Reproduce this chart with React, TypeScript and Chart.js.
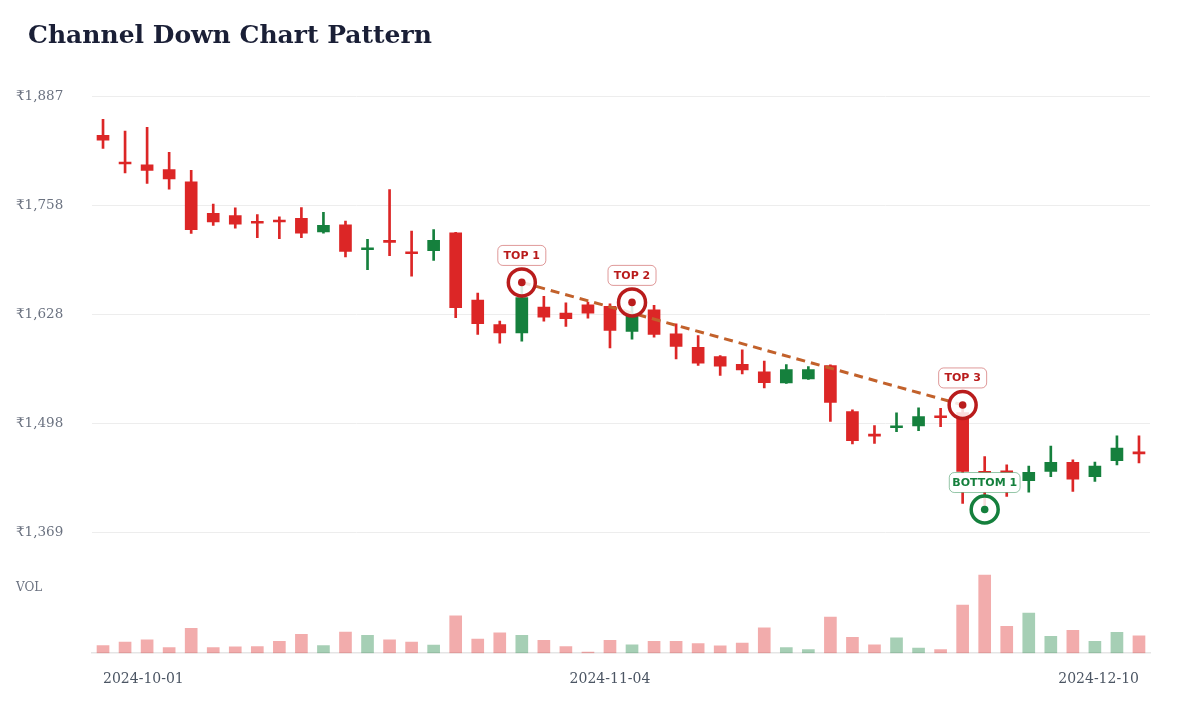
import { useEffect, useRef } from "react";
import { Chart, registerables } from "chart.js";

Chart.register(...registerables);

// trading days shown on the category axis
const dates = [
  "2024-10-01", "2024-10-03", "2024-10-04", "2024-10-07", "2024-10-08", "2024-10-09", "2024-10-10", "2024-10-11",
  "2024-10-14", "2024-10-15", "2024-10-16", "2024-10-17", "2024-10-18", "2024-10-21", "2024-10-22", "2024-10-23",
  "2024-10-24", "2024-10-25", "2024-10-28", "2024-10-29", "2024-10-30", "2024-10-31", "2024-11-01", "2024-11-04",
  "2024-11-05", "2024-11-06", "2024-11-07", "2024-11-08", "2024-11-11", "2024-11-12", "2024-11-13", "2024-11-14",
  "2024-11-18", "2024-11-19", "2024-11-21", "2024-11-22", "2024-11-25", "2024-11-26", "2024-11-27", "2024-11-28",
  "2024-11-29", "2024-12-02", "2024-12-03", "2024-12-04", "2024-12-05", "2024-12-06", "2024-12-09", "2024-12-10",
];

const opens = [
  1840.5, 1807.5, 1805.5, 1800.0, 1785.3, 1748.1, 1745.4, 1737.2, 1738.7, 1742.1, 1725.9, 1734.2,
  1704.8, 1714.5, 1701.0, 1703.7, 1724.7, 1645.0, 1616.1, 1606.2, 1636.7, 1629.5, 1639.5, 1637.5,
  1607.8, 1633.6, 1605.1, 1589.1, 1578.1, 1568.9, 1559.9, 1546.8, 1551.5, 1567.4, 1512.7, 1484.6,
  1493.5, 1495.7, 1506.4, 1511.5, 1441.7, 1442.5, 1430.6, 1441.7, 1452.4, 1435.4, 1454.4, 1463.6,
];
const highs = [
  1859.5, 1845.6, 1850.0, 1820.3, 1798.9, 1758.8, 1754.4, 1746.5, 1743.7, 1754.9, 1749.3, 1738.9,
  1717.2, 1776.3, 1727.0, 1728.7, 1725.5, 1653.3, 1620.0, 1666.0, 1649.4, 1641.9, 1642.6, 1640.7,
  1642.3, 1638.7, 1616.9, 1603.0, 1579.3, 1586.0, 1572.5, 1568.5, 1566.2, 1568.2, 1514.7, 1496.0,
  1511.1, 1517.1, 1516.6, 1520.6, 1459.2, 1449.6, 1448.1, 1471.9, 1455.6, 1452.9, 1483.8, 1483.8,
];
const lows = [
  1825.0, 1796.0, 1783.4, 1776.6, 1724.0, 1733.5, 1730.3, 1719.2, 1718.0, 1719.2, 1724.5, 1696.1,
  1681.1, 1697.8, 1673.5, 1692.2, 1624.1, 1604.2, 1593.9, 1596.3, 1620.0, 1613.7, 1623.6, 1588.4,
  1598.6, 1601.0, 1575.3, 1567.4, 1555.5, 1557.5, 1540.8, 1546.0, 1551.0, 1501.1, 1474.3, 1475.0,
  1488.9, 1490.1, 1494.8, 1403.6, 1396.5, 1412.0, 1417.2, 1435.4, 1417.9, 1429.8, 1449.3, 1451.7,
];
const closes = [
  1834.9, 1806.5, 1798.9, 1788.9, 1728.7, 1737.7, 1735.0, 1736.2, 1737.7, 1724.3, 1733.8, 1702.9,
  1705.8, 1713.5, 1700.0, 1716.0, 1636.0, 1616.9, 1606.2, 1647.9, 1624.8, 1622.9, 1629.5, 1609.0,
  1629.2, 1604.2, 1589.9, 1570.1, 1566.5, 1562.2, 1547.1, 1562.6, 1562.6, 1523.7, 1478.2, 1483.6,
  1494.5, 1506.7, 1505.4, 1441.7, 1439.3, 1438.9, 1440.5, 1452.4, 1432.6, 1448.1, 1469.5, 1462.6,
];
const volumes = [
  77, 110, 133, 57, 247, 57, 63, 67, 117, 187, 77, 210,
  177, 133, 110, 80, 373, 140, 203, 177, 127, 67, 10, 127,
  83, 117, 117, 97, 73, 100, 253, 57, 37, 360, 157, 83,
  153, 50, 37, 480, 777, 267, 400, 167, 227, 117, 207, 173,
];

const yTicks = [1368.8, 1498.4, 1628.0, 1757.6, 1887.2];
const xTickIdx = [0, 23, 47];

const markers = [
  { label: "TOP 1", index: 19, kind: "top" },
  { label: "TOP 2", index: 24, kind: "top" },
  { label: "TOP 3", index: 39, kind: "top" },
  { label: "BOTTOM 1", index: 40, kind: "bottom" },
];
const trendFrom = 19;
const trendTo = 39;

const RED = "#dc2626";
const GREEN = "#15803d";
const RING_RED = "#b91c1c";
const RING_GREEN = "#15803d";

const markerValue = (m: { index: number; kind: string }) => (m.kind === "top" ? highs[m.index] : lows[m.index]);
const markerAt = (i: number) => markers.find((m) => m.index === i);
const ringColor = (i: number) => (markerAt(i)?.kind === "bottom" ? RING_GREEN : RING_RED);

const markerLabels = {
  id: "markerLabels",
  afterDatasetsDraw(chart: any) {
    const { ctx, scales: { x, y }, chartArea } = chart;
    ctx.save();
    ctx.font = "bold 11px 'DejaVu Sans'";
    ctx.textAlign = "center";
    ctx.textBaseline = "middle";
    markers.forEach((m) => {
      const cx = x.getPixelForValue(m.index);
      const cy = y.getPixelForValue(markerValue(m)) - 27;
      const w = Math.max(48, ctx.measureText(m.label).width + 6);
      const h = 20;
      const top = m.kind === "top";
      ctx.beginPath();
      ctx.roundRect(cx - w / 2, cy - h / 2, w, h, 5);
      ctx.fillStyle = "#ffffff";
      ctx.fill();
      ctx.lineWidth = 1;
      ctx.strokeStyle = top ? "rgba(185,28,28,0.45)" : "rgba(21,128,61,0.45)";
      ctx.stroke();
      ctx.fillStyle = top ? RING_RED : RING_GREEN;
      ctx.fillText(m.label, cx, cy + 0.5);
    });
    ctx.font = "12px 'DejaVu Serif'";
    ctx.fillStyle = "#6b7280";
    ctx.textAlign = "left";
    ctx.fillText("VOL", 16, chartArea.bottom - 65);
    ctx.restore();
  },
};

export default function App() {
  const canvasRef = useRef<HTMLCanvasElement>(null);

  useEffect(() => {
    if (!canvasRef.current) return;
    const up = closes.map((c, i) => c >= opens[i]);
    const chart = new Chart(canvasRef.current, {
      type: "bar",
      data: {
        labels: dates,
        datasets: [
          {
            label: "Volume",
            yAxisID: "yVol",
            data: volumes,
            backgroundColor: up.map((u) => (u ? "rgba(21,128,61,0.38)" : "rgba(220,38,38,0.38)")),
            barThickness: 12,
            grouped: false,
            order: 10,
          },
          {
            label: "Wick",
            data: lows.map((l, i) => [l, highs[i]]),
            backgroundColor: up.map((u) => (u ? GREEN : RED)),
            barThickness: 2,
            grouped: false,
            order: 8,
          },
          {
            label: "Body",
            data: opens.map((o, i) => [o, closes[i]]),
            backgroundColor: up.map((u) => (u ? GREEN : RED)),
            barThickness: 12,
            minBarLength: 2,
            grouped: false,
            order: 7,
          },
          {
            type: "line",
            label: "Channel",
            data: dates.map((_, i) => (i === trendFrom || i === trendTo ? highs[i] : null)),
            spanGaps: true,
            borderColor: "#c2612b",
            borderWidth: 3,
            borderDash: [9, 6],
            pointRadius: 0,
            order: 4,
          },
          {
            type: "line",
            label: "Rings",
            data: dates.map((_, i) => { const m = markerAt(i); return m ? markerValue(m) : null; }),
            showLine: false,
            pointRadius: 13.5,
            pointHoverRadius: 13.5,
            pointBorderWidth: 3.5,
            pointBackgroundColor: "rgba(255,255,255,0.85)",
            pointBorderColor: (c: any) => ringColor(c.dataIndex),
            order: 3,
          },
          {
            type: "line",
            label: "Dots",
            data: dates.map((_, i) => { const m = markerAt(i); return m ? markerValue(m) : null; }),
            showLine: false,
            pointRadius: 3.8,
            pointHoverRadius: 3.8,
            pointBorderWidth: 0,
            pointBackgroundColor: (c: any) => ringColor(c.dataIndex),
            order: 2,
          },
        ] as any,
      },
      options: {
        animation: false,
        responsive: true,
        maintainAspectRatio: false,
        layout: { padding: { top: 96, left: 16, right: 50, bottom: 14 } },
        plugins: { legend: { display: false }, tooltip: { enabled: false } },
        scales: {
          x: {
            offset: true,
            grid: { display: false, drawTicks: false },
            border: { display: true, color: "#e5e5e5", width: 1.5 },
            afterBuildTicks: (s: any) => { s.ticks = xTickIdx.map((v) => ({ value: v })); },
            ticks: {
              align: "inner",
              autoSkip: false,
              maxRotation: 0,
              minRotation: 0,
              padding: 18,
              color: "#4b5563",
              font: { family: "'DejaVu Serif'", size: 14 },
            },
          },
          y: {
            min: 1226,
            max: 1887.2,
            afterBuildTicks: (s: any) => { s.ticks = yTicks.map((v) => ({ value: v })); },
            afterFit: (s: any) => { s.width = 76; },
            grid: { color: "#ededed", drawTicks: false },
            border: { display: false },
            ticks: {
              crossAlign: "far",
              color: "#6b7280",
              font: { family: "'DejaVu Serif'", size: 13.5 },
              callback: (v: any) => "₹" + Math.round(Number(v)).toLocaleString("en-IN"),
            },
          },
          yVol: { display: false, min: 0, max: Math.max(...volumes) / 0.14 },
        },
      } as any,
      plugins: [markerLabels],
    });
    return () => chart.destroy();
  }, []);

  return (
    <div style={{ position: "fixed", left: 0, top: 0, width: 1200, height: 720, background: "#ffffff" }}>
      <div
        style={{
          position: "absolute",
          left: 28,
          top: 19,
          fontFamily: "'DejaVu Serif'",
          fontWeight: 700,
          fontSize: 25,
          lineHeight: "31px",
          color: "#1a1f36",
        }}
      >
        Channel Down Chart Pattern
      </div>
      <canvas ref={canvasRef} />
    </div>
  );
}
